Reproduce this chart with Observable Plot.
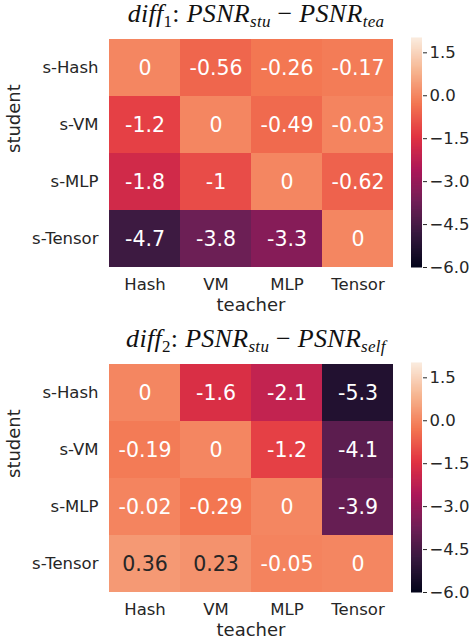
<!DOCTYPE html>
<html>
<head>
<meta charset="utf-8">
<script src="https://cdn.jsdelivr.net/npm/d3@7"></script>
<script src="https://cdn.jsdelivr.net/npm/@observablehq/plot@0.6"></script>
<style>
  html, body { margin: 0; padding: 0; background: #fff; }
  #root { position: relative; width: 474px; height: 642px; overflow: hidden; font-family: "DejaVu Sans", sans-serif; }
  .panel { position: absolute; left: 0; width: 474px; height: 325px; }
  .title { position: absolute; left: 100px; width: 312px; top: -1px; text-align: center;
           font-family: "Liberation Serif", "DejaVu Serif", serif; font-style: italic; font-size: 26px; color: #111; white-space: nowrap; letter-spacing: 0.3px; }
  .title sub { font-size: 17px; vertical-align: -5px; }
  .title .up { font-style: normal; }
  .heat { position: absolute; left: 0; top: 0; }
  .cbar { position: absolute; left: 400px; top: 0; }
</style>
</head>
<body>
<div id="root"></div>
<script>
// ---- data ----
const teachers = ["Hash", "VM", "MLP", "Tensor"];
const students = ["s-Hash", "s-VM", "s-MLP", "s-Tensor"];
const diff1 = [
  [0, -0.56, -0.26, -0.17],
  [-1.2, 0, -0.49, -0.03],
  [-1.8, -1, 0, -0.62],
  [-4.7, -3.8, -3.3, 0]
];
const diff2 = [
  [0, -1.6, -2.1, -5.3],
  [-0.19, 0, -1.2, -4.1],
  [-0.02, -0.29, 0, -3.9],
  [0.36, 0.23, -0.05, 0]
];
const colorTicks = [1.5, 0, -1.5, -3, -4.5, -6];
const colorDomain = [-6, 2];
const titles = [
  '<span>diff</span><sub class="up">1</sub><span class="up">: </span>PSNR<sub>stu</sub><span class="up"> \u2212 </span>PSNR<sub>tea</sub>',
  '<span>diff</span><sub class="up">2</sub><span class="up">: </span>PSNR<sub>stu</sub><span class="up"> \u2212 </span>PSNR<sub>self</sub>'
];

// seaborn "rocket" colormap stops
const rocketPos = [0, 1/7, 2/7, 3/7, 4/7, 5/7, 6/7, 1];
const rocketCol = ["#03051a", "#35193e", "#701f57", "#ad1759", "#e13342", "#f37651", "#f6b48f", "#faebdd"];
const rocket = d3.scaleLinear().domain(rocketPos).range(rocketCol).interpolate(d3.interpolateRgb).clamp(true);
const colorOpt = {type: "linear", domain: colorDomain, interpolate: t => rocket(t)};
const colorOf = v => rocket((v - colorDomain[0]) / (colorDomain[1] - colorDomain[0]));

function lum(c) {
  const r = d3.rgb(c);
  const f = x => { x /= 255; return x <= 0.03928 ? x / 12.92 : Math.pow((x + 0.055) / 1.055, 2.4); };
  return 0.2126 * f(r.r) + 0.7152 * f(r.g) + 0.0722 * f(r.b);
}

const root = document.getElementById("root");
const style = {fontFamily: "DejaVu Sans", fontSize: "16px", color: "#262626", background: "transparent", overflow: "visible"};

[diff1, diff2].forEach((mat, p) => {
  const panel = document.createElement("div");
  panel.className = "panel";
  panel.style.top = (p * 325) + "px";
  root.appendChild(panel);

  const table = [];
  students.forEach((s, i) => teachers.forEach((t, j) => table.push({student: s, teacher: t, value: mat[i][j]})));

  const heat = Plot.plot({
    width: 400, height: 325,
    marginLeft: 108, marginRight: 7, marginTop: 38, marginBottom: 58,
    style,
    x: {type: "band", domain: teachers, padding: 0, axis: null},
    y: {type: "band", domain: students, padding: 0, axis: null},
    color: colorOpt,
    marks: [
      Plot.cell(table, {x: "teacher", y: "student", fill: "value", inset: 0}),
      Plot.text(table, {
        x: "teacher", y: "student", text: d => String(d.value),
        fill: d => lum(colorOf(d.value)) > 0.40 ? "#262626" : "#ffffff",
        fontSize: 20.5, fontFamily: "DejaVu Sans"
      }),
      Plot.axisX(teachers, {anchor: "bottom", tickSize: 0, tickPadding: 11, label: null, fontSize: 16.5, fill: "#262626"}),
      Plot.axisY(students, {anchor: "left", tickSize: 0, tickPadding: 10, label: null, fontSize: 16.5, fill: "#262626"}),
      Plot.text(["teacher"], {frameAnchor: "bottom", dy: 38, fontSize: 18, fill: "#262626", lineAnchor: "middle"}),
      Plot.text(["student"], {frameAnchor: "left", dx: -94, rotate: -90, fontSize: 18, fill: "#262626", lineAnchor: "middle"})
    ]
  });
  heat.classList.add("heat");
  panel.appendChild(heat);

  // colorbar: fine steps across the colour domain
  const steps = d3.range(0, 200).map(k => {
    const a = colorDomain[0] + (colorDomain[1] - colorDomain[0]) * k / 200;
    const b = colorDomain[0] + (colorDomain[1] - colorDomain[0]) * (k + 1) / 200;
    return {y1: a, y2: b, v: (a + b) / 2};
  });
  const cbar = Plot.plot({
    width: 74, height: 325,
    marginLeft: 11, marginRight: 52, marginTop: 38, marginBottom: 58,
    style,
    x: {domain: [0, 1], axis: null},
    y: {domain: colorDomain, axis: null},
    color: colorOpt,
    marks: [
      Plot.rect(steps, {x1: 0, x2: 1, y1: "y1", y2: "y2", fill: "v", insetTop: -0.5, insetBottom: -0.5}),
      Plot.axisY(colorTicks, {anchor: "right", tickSize: 4, tickPadding: 3, tickFormat: d3.format(".1f"), label: null, fontSize: 16.5, fill: "#262626", stroke: "#262626"})
    ]
  });
  cbar.classList.add("cbar");
  panel.appendChild(cbar);

  const title = document.createElement("div");
  title.className = "title";
  title.innerHTML = titles[p];
  panel.appendChild(title);
});
</script>
</body>
</html>
